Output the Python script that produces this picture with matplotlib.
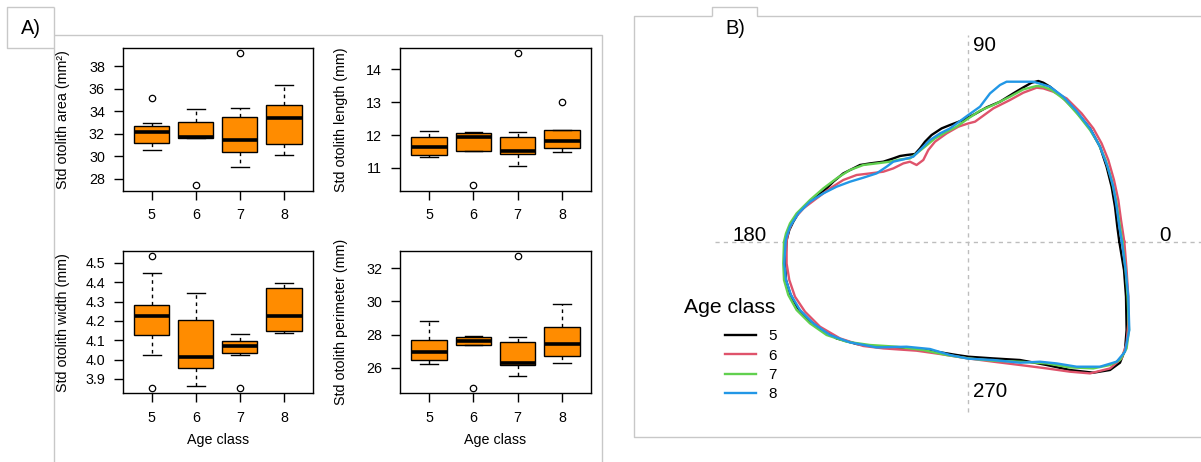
import numpy as np
import matplotlib
matplotlib.use("Agg")
import matplotlib.pyplot as plt

plt.rcParams['font.family'] = ['Liberation Sans', 'DejaVu Sans']

# ---------------- data : panel A (box statistics) -------------
age_classes = ["5", "6", "7", "8"]

area_whislo = [30.54, 31.64, 29.07, 30.12]
area_q1 = [31.22, 31.64, 30.36, 31.13]
area_med = [32.12, 31.73, 31.43, 33.37]
area_q3 = [32.72, 33.07, 33.46, 34.60]
area_whishi = [32.99, 34.18, 34.27, 36.30]
area_fliers = [[35.16], [27.40], [39.19], []]

length_whislo = [11.32, 11.51, 11.05, 11.48]
length_q1 = [11.39, 11.51, 11.41, 11.61]
length_med = [11.64, 11.94, 11.51, 11.82]
length_q3 = [11.93, 12.07, 11.94, 12.14]
length_whishi = [12.12, 12.08, 12.10, 12.14]
length_fliers = [[], [10.47], [14.49], [13.00]]

width_whislo = [4.024, 3.866, 4.026, 4.140]
width_q1 = [4.128, 3.959, 4.033, 4.147]
width_med = [4.226, 4.014, 4.071, 4.226]
width_q3 = [4.284, 4.203, 4.098, 4.372]
width_whishi = [4.445, 4.345, 4.133, 4.397]
width_fliers = [[4.534, 3.853], [], [3.853], []]

perim_whislo = [26.22, 27.35, 25.52, 26.32]
perim_q1 = [26.48, 27.35, 26.20, 26.70]
perim_med = [26.93, 27.63, 26.30, 27.43]
perim_q3 = [27.69, 27.89, 27.59, 28.48]
perim_whishi = [28.80, 27.91, 27.87, 29.87]
perim_fliers = [[], [24.79], [32.72], []]

area_ticks = [28, 30, 32, 34, 36, 38]
length_ticks = [11, 12, 13, 14]
width_ticks = [3.9, 4.0, 4.1, 4.2, 4.3, 4.4, 4.5]
perim_ticks = [26, 28, 30, 32]

# ---------------- data : panel B (mean outlines, x/y relative to centroid) ----------
outline_x_5 = [151, 149, 146.7, 143.3, 138.3, 131.7, 121.7, 106.7, 91.7, 81.7,
               75, 70, 63.3, 55, 45, 31.7, 18.3, 6.7, 0, -5,
               -18.3, -26.7, -36.7, -43.3, -48.3, -53.3, -61.7, -68.3, -75, -85,
               -98.3, -108.3, -115, -125, -135, -141.7, -151.7, -161.7, -170, -175,
               -179, -181.7, -182.3, -183.3, -182.3, -178.3, -171.7, -161.7, -148.3, -131.7,
               -111.7, -91.7, -71.7, -51.7, -31.7, -11.7, 0, 25, 51.7, 78.3,
               101.7, 125, 141.7, 151.7, 156.7, 158.3, 157.7, 155.7, 151]
outline_y_5 = [0, 15, 35, 55, 75, 95, 113.3, 131.7, 146.7, 155,
               159, 160.7, 159, 154.3, 148.3, 140, 134.3, 127.7, 124.3, 121.7,
               116.7, 113.3, 106.7, 100, 93.3, 87.7, 86.7, 85.7, 83.3, 80,
               78.3, 76.7, 73.3, 68.3, 60, 53.3, 45, 36.7, 28.3, 20,
               11.7, 1.7, -8.3, -21.7, -38.3, -51.7, -65, -76.7, -86.7, -96.7,
               -102.3, -105, -105.7, -106.7, -110, -113.3, -115, -116.7, -118.3, -123.3,
               -128.3, -131, -128.3, -121, -108.3, -88.3, -55, -28.3, 0]

outline_x_6 = [156, 152.7, 150, 145.7, 140, 133.3, 125, 113.3, 98.3, 85,
               75, 68.3, 55, 41.7, 25, 6.7, 0, -10, -21.7, -33.3,
               -40, -45, -51.7, -58.3, -65, -75, -85, -98.3, -111.7, -125,
               -138.3, -151.7, -165, -175, -180, -181.7, -181.7, -181.7, -179, -173.3,
               -163.3, -148.3, -128.3, -105, -85, -51.7, -28.3, 0, 25, 51.7,
               78.3, 101.7, 121.7, 141.7, 153.3, 158.3, 160, 160, 158.3, 156]
outline_y_6 = [0, 21.7, 41.7, 61.7, 81.7, 98.3, 113.3, 128.3, 143.3, 150,
               153.3, 154, 149, 141.7, 133.3, 120, 118.3, 115, 108.3, 100,
               91.7, 81.7, 76.7, 80, 78.3, 73.3, 70, 68.3, 66.7, 61.7,
               53.3, 43.3, 33.3, 21.7, 10, 0, -8.3, -21.7, -38.3, -55,
               -70, -85, -96.7, -104.3, -106.7, -109, -112.3, -116.7, -120, -123.3,
               -126.7, -130, -131.7, -126.7, -116.7, -101.7, -81.7, -55, -28.3, 0]

outline_x_7 = [154, 150.7, 147.7, 143.3, 137.3, 130, 121.7, 110, 96.7, 83.3,
               75, 68.3, 55, 41.7, 25, 11.7, 0, -11.7, -21.7, -33.3,
               -43.3, -51.7, -58.3, -68.3, -78.3, -91.7, -105, -118.3, -131.7, -145,
               -158.3, -171.7, -178.3, -182.3, -184.3, -185, -184.3, -180, -171.7, -158.3,
               -141.7, -121.7, -98.3, -71.7, -45, -21.7, 0, 25, 51.7, 78.3,
               101.7, 125, 141.7, 151.7, 158.3, 160.7, 159.3, 157.3, 154]
outline_y_7 = [0, 21.7, 41.7, 61.7, 81.7, 98.3, 111.7, 126.7, 141.7, 151.7,
               155, 155.7, 152.3, 145, 136.7, 131, 123.3, 115, 110, 103.3,
               95, 88.3, 83.3, 82.3, 80, 78.3, 76.7, 71.7, 63.3, 53.3,
               41.7, 28.3, 18.3, 8.3, 0, -21.7, -38.3, -53.3, -68.3, -81.7,
               -93.3, -100, -103.3, -105, -108.3, -113.3, -116.7, -119, -120, -121.7,
               -125.7, -126.7, -123.3, -118.3, -106.7, -88.3, -55, -28.3, 0]

outline_x_8 = [153.5, 151, 148.3, 145, 139.3, 131.7, 121.7, 108.3, 95, 81.7,
               65, 38.3, 31.7, 21.7, 11.7, 0, -18.3, -28.3, -38.3, -48.3,
               -55, -65, -75, -81.7, -91.7, -105, -118.3, -131.7, -145, -158.3,
               -170, -178.3, -181.7, -182.7, -184, -182.3, -177.3, -168.3, -155, -138.3,
               -118.3, -91.7, -61.7, -38.3, -18.3, 0, 25, 51.7, 71.7, 88.3,
               108.3, 131.7, 148.3, 156.7, 161, 160, 157.3, 153.5]
outline_y_8 = [0, 15, 35, 55, 75, 95, 113.3, 130.7, 145, 155,
               160, 160, 156.7, 148.3, 135, 126.7, 113.3, 108.3, 101.7, 91.7,
               85, 82.3, 80, 75, 68.3, 64, 60, 55, 48.3, 40,
               28.3, 15, 5, 0, -21.7, -38.3, -53.3, -68.3, -81.7, -93.3,
               -100.7, -105.7, -105, -107.3, -113.3, -117, -118.3, -121, -120, -121.7,
               -125, -125, -120, -110, -88.3, -55, -28.3, 0]

outline_colors = ["#000000", "#DF536B", "#61D04F", "#2297E6"]
angle_labels = ["0", "90", "180", "270"]

# ---------------- figure ----------------
W, H = 1201, 462
fig = plt.figure(figsize=(W / 100, H / 100), dpi=100)


def px_axes(x0, y0, x1, y1, **kw):
    return fig.add_axes([x0 / W, 1 - y1 / H, (x1 - x0) / W, (y1 - y0) / H], **kw)


# decoration layer (panel frames and tabs)
deco = px_axes(0, 0, W, H, zorder=-5)
deco.set_xlim(0, W)
deco.set_ylim(H, 0)
deco.axis('off')
frame_color = '#c8c8c8'


def seg(xs, ys):
    deco.plot(xs, ys, color=frame_color, lw=1.0, solid_capstyle='butt')


seg([54.3, 7.3, 7.3, 54.3], [7.3, 7.3, 48.3, 48.3])
seg([54.3, 54.3], [7.3, H])
seg([54.3, 602, 602], [35, 35, H])
seg([711.7, 634.3, 634.3, W], [15.7, 15.7, 436.7, 436.7])
seg([711.7, 711.7, 757.3, 757.3, W], [15.7, 7.3, 7.3, 15.7, 15.7])
deco.text(31, 29, "A)", fontsize=14.4, ha='center', va='center')
deco.text(725, 29, "B)", fontsize=14.4, ha='left', va='center')


# ---------------- panel A ----------------
def box_stats(whislo, q1, med, q3, whishi, fliers):
    return [dict(whislo=a, q1=b, med=c, q3=d, whishi=e, fliers=f)
            for a, b, c, d, e, f in zip(whislo, q1, med, q3, whishi, fliers)]


panels = [
    ((122.7, 47.7, 313, 190.7), box_stats(area_whislo, area_q1, area_med, area_q3, area_whishi, area_fliers),
     area_ticks, "Std otolith area (mm²)", False, "{:g}"),
    ((400, 47.7, 591, 190.7), box_stats(length_whislo, length_q1, length_med, length_q3, length_whishi, length_fliers),
     length_ticks, "Std otolith length (mm)", False, "{:g}"),
    ((122.7, 251, 313, 393.3), box_stats(width_whislo, width_q1, width_med, width_q3, width_whishi, width_fliers),
     width_ticks, "Std otolith width (mm)", True, "{:.1f}"),
    ((400, 251, 591, 393.3), box_stats(perim_whislo, perim_q1, perim_med, perim_q3, perim_whishi, perim_fliers),
     perim_ticks, "Std otolith perimeter (mm)", True, "{:g}"),
]

fs_a = 10.3
positions = np.arange(1, len(age_classes) + 1)
for (x0, y0, x1, y1), stats, yticks, ylabel, show_x, fmt in panels:
    ax = px_axes(x0, y0, x1, y1)
    ax.bxp(stats, positions=positions, widths=0.8, capwidths=0.4, patch_artist=True,
           boxprops=dict(facecolor='#FF8C00', edgecolor='black', linewidth=1.0),
           medianprops=dict(color='black', linewidth=2.6, solid_capstyle='butt'),
           whiskerprops=dict(color='black', linewidth=1.0, linestyle=(0, (2.6, 2.6))),
           capprops=dict(color='black', linewidth=1.0),
           flierprops=dict(marker='o', markerfacecolor='none', markeredgecolor='black',
                           markersize=4.6, markeredgewidth=0.9))
    vals = [v for s in stats for v in [s['whislo'], s['whishi']] + list(s['fliers'])]
    lo, hi = min(vals), max(vals)
    pad = 0.04 * (hi - lo)
    ax.set_ylim(lo - pad, hi + pad)
    ax.set_xlim(0.5 - 0.16, len(age_classes) + 0.5 + 0.16)
    ax.set_xticks(positions)
    ax.set_xticklabels(age_classes)
    ax.set_yticks(yticks)
    ax.set_yticklabels([fmt.format(v) for v in yticks])
    ax.tick_params(direction='out', length=6.3, width=1.0, labelsize=fs_a, pad=6.5, color='black')
    for sp in ax.spines.values():
        sp.set_linewidth(1.0)
        sp.set_color('black')
    ax.set_ylabel(ylabel, fontsize=fs_a)
    ax.yaxis.set_label_coords(-52.5 / (x1 - x0), 0.5)
    if show_x:
        ax.set_xlabel("Age class", fontsize=fs_a)
        ax.xaxis.set_label_coords(0.5, -40.0 / (y1 - y0))

# ---------------- panel B ----------------
cx, cy = 968.3, 241.7
axb = px_axes(634, 16, W, 437)
axb.set_xlim(634 - cx, W - cx)
axb.set_ylim(cy - 437, cy - 16)
axb.axis('off')

guide_kw = dict(color='#bdbdbd', lw=1.0, linestyle=(0, (3, 3)))
axb.plot([-253, W - cx + 5], [0, 0], **guide_kw)
axb.plot([0, 0], [-170, 207], **guide_kw)

fs_b = 14.8
axb.text(196.7, 6.5, angle_labels[0], fontsize=fs_b, ha='center', va='center')
axb.text(4.5, 196, angle_labels[1], fontsize=fs_b, ha='left', va='center')
axb.text(-201.5, 6.5, angle_labels[2], fontsize=fs_b, ha='right', va='center')
axb.text(4.5, -150, angle_labels[3], fontsize=fs_b, ha='left', va='center')

outlines = [(outline_x_5, outline_y_5), (outline_x_6, outline_y_6),
            (outline_x_7, outline_y_7), (outline_x_8, outline_y_8)]
handles = []
for (xs, ys), col, lab in zip(outlines, outline_colors, age_classes):
    ln, = axb.plot(xs, ys, color=col, lw=1.7, solid_joinstyle='round', label=lab)
    handles.append(ln)

# legend title and entries
axb.text(684 - cx, cy - 307.3, "Age class", fontsize=15.2, ha='left', va='center')
leg = axb.legend(handles=handles, loc='upper right',
                 bbox_to_anchor=(777 / W, 1 - 329 / H), bbox_transform=fig.transFigure,
                 frameon=False, fontsize=11, borderpad=0, handlelength=2.05,
                 handletextpad=0.8, labelspacing=0.36, borderaxespad=0)

fig.savefig("out.png", dpi=100)
